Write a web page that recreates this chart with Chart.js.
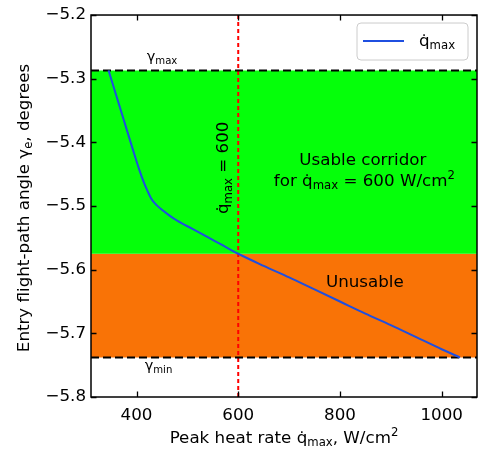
<!DOCTYPE html>
<html>
<head>
<meta charset="utf-8">
<script src="https://cdn.jsdelivr.net/npm/chart.js@4/dist/chart.umd.min.js"></script>
<style>
html, body { margin: 0; padding: 0; background: #fff; }
</style>
</head>
<body>
<canvas id="corridorChart" width="480" height="450"></canvas>
<script>
// peak heat rate (W/cm^2) vs entry flight-path angle (deg)
const heatRate = [345, 360, 375, 390, 405, 415, 422, 428, 434, 440, 450, 465, 480, 510, 540, 570, 600, 650, 700, 750, 800, 850, 900, 950, 1000, 1036];
const gammaEntry = [-5.287, -5.326, -5.365, -5.404, -5.442, -5.464, -5.477, -5.487, -5.494, -5.499, -5.506, -5.515, -5.523, -5.536, -5.549, -5.562, -5.575, -5.594, -5.612, -5.631, -5.650, -5.669, -5.687, -5.706, -5.725, -5.738];

const gammaMax = -5.287;
const gammaSplit = -5.575;
const gammaMin = -5.738;
const qLimit = 600;

const xRange = [310.5, 1069.5];
const yRange = [-5.8, -5.2];
const xTicks = [400, 600, 800, 1000];
const yTicks = [-5.8, -5.7, -5.6, -5.5, -5.4, -5.3, -5.2];

const FONT = '"DejaVu Sans", sans-serif';
const FS = 16.7;

function hline(y) {
  return [{ x: xRange[0], y: y }, { x: xRange[1], y: y }];
}

// text with sub/superscripts: parts = [[text, kind]], kind '' | 'sub' | 'sup'
function drawRich(ctx, parts, x, y, align, size) {
  const fontFor = k => (k ? size * 0.7 : size) + 'px ' + FONT;
  let w = 0;
  parts.forEach(([t, k]) => { ctx.font = fontFor(k); w += ctx.measureText(t).width; });
  let cx = align === 'center' ? x - w / 2 : align === 'right' ? x - w : x;
  ctx.textAlign = 'left';
  ctx.textBaseline = 'alphabetic';
  parts.forEach(([t, k]) => {
    ctx.font = fontFor(k);
    const dy = k === 'sub' ? size * 0.2 : k === 'sup' ? -size * 0.4 : 0;
    ctx.fillText(t, cx, y + dy);
    cx += ctx.measureText(t).width;
  });
}

const QDOT = 'q\u0307';

const extras = {
  id: 'extras',
  afterDatasetsDraw(chart) {
    const ctx = chart.ctx, xs = chart.scales.x, ys = chart.scales.y;
    ctx.save();
    ctx.fillStyle = '#000';

    drawRich(ctx, [['γ', ''], ['max', 'sub']], xs.getPixelForValue(420), ys.getPixelForValue(-5.272), 'left', 14.5);
    drawRich(ctx, [['γ', ''], ['min', 'sub']], xs.getPixelForValue(416), ys.getPixelForValue(-5.758), 'left', 14.5);

    drawRich(ctx, [['Usable corridor', '']], xs.getPixelForValue(845), ys.getPixelForValue(-5.435), 'center', FS);
    drawRich(ctx, [['for ' + QDOT, ''], ['max', 'sub'], [' = 600 W/cm', ''], ['2', 'sup']],
      xs.getPixelForValue(848), ys.getPixelForValue(-5.468), 'center', FS);
    drawRich(ctx, [['Unusable', '']], xs.getPixelForValue(849), ys.getPixelForValue(-5.628), 'center', FS);

    // rotated label next to the limit line
    ctx.save();
    ctx.translate(xs.getPixelForValue(qLimit) - 10, ys.getPixelForValue(-5.44));
    ctx.rotate(-Math.PI / 2);
    drawRich(ctx, [[QDOT, ''], ['max', 'sub'], [' = 600', '']], 0, 0, 'center', FS);
    ctx.restore();
    ctx.restore();
  },
  afterDraw(chart) {
    const ctx = chart.ctx, ca = chart.chartArea, xs = chart.scales.x, ys = chart.scales.y;
    ctx.save();
    // inward ticks on all sides
    ctx.strokeStyle = '#000';
    ctx.lineWidth = 1.3;
    const tl = 5.5;
    ctx.beginPath();
    xTicks.forEach(v => {
      const p = Math.round(xs.getPixelForValue(v)) + 0.5;
      ctx.moveTo(p, ca.bottom); ctx.lineTo(p, ca.bottom - tl);
      ctx.moveTo(p, ca.top); ctx.lineTo(p, ca.top + tl);
    });
    yTicks.forEach(v => {
      const p = Math.round(ys.getPixelForValue(v)) + 0.5;
      ctx.moveTo(ca.left, p); ctx.lineTo(ca.left + tl, p);
      ctx.moveTo(ca.right, p); ctx.lineTo(ca.right - tl, p);
    });
    ctx.stroke();
    // frame
    ctx.lineWidth = 1.5;
    ctx.strokeRect(ca.left, ca.top, ca.right - ca.left, ca.bottom - ca.top);

    // legend
    const lx = ca.right - 120, ly = ca.top + 8, lw = 111, lh = 37;
    ctx.beginPath();
    ctx.roundRect(lx, ly, lw, lh, 4);
    ctx.fillStyle = 'rgba(255,255,255,0.8)';
    ctx.fill();
    ctx.strokeStyle = '#cccccc';
    ctx.lineWidth = 1;
    ctx.stroke();
    ctx.beginPath();
    ctx.strokeStyle = '#1f4fe0';
    ctx.lineWidth = 2;
    ctx.moveTo(lx + 6, ly + 18);
    ctx.lineTo(lx + 47, ly + 18);
    ctx.stroke();
    ctx.fillStyle = '#000';
    drawRich(ctx, [[QDOT, ''], ['max', 'sub']], lx + 62, ly + 23, 'left', FS);

    // axis titles
    drawRich(ctx, [['Peak heat rate ' + QDOT, ''], ['max', 'sub'], [', W/cm', ''], ['2', 'sup']],
      (ca.left + ca.right) / 2, 442.5, 'center', FS);
    ctx.save();
    ctx.translate(29, (ca.top + ca.bottom) / 2 + 2);
    ctx.rotate(-Math.PI / 2);
    drawRich(ctx, [['Entry flight-path angle γ', ''], ['e', 'sub'], [', degrees', '']], 0, 0, 'center', FS);
    ctx.restore();
    ctx.restore();
  }
};

new Chart(document.getElementById('corridorChart'), {
  type: 'line',
  data: {
    datasets: [
      {
        label: 'qmax',
        data: heatRate.map((x, i) => ({ x: x, y: gammaEntry[i] })),
        borderColor: '#1f4fe0',
        borderWidth: 2,
        pointRadius: 0,
        cubicInterpolationMode: 'monotone',
        fill: false
      },
      {
        label: 'gamma max',
        data: hline(gammaMax),
        borderColor: '#000',
        borderWidth: 2,
        borderDash: [8, 4],
        pointRadius: 0,
        fill: false
      },
      {
        label: 'split',
        data: hline(gammaSplit),
        borderWidth: 0,
        pointRadius: 0,
        backgroundColor: '#05ff0a',
        fill: 1
      },
      {
        label: 'gamma min',
        data: hline(gammaMin),
        borderColor: '#000',
        borderWidth: 2,
        borderDash: [8, 4],
        pointRadius: 0,
        backgroundColor: '#f97306',
        fill: 2
      },
      {
        label: 'limit',
        data: [{ x: qLimit, y: yRange[0] }, { x: qLimit, y: yRange[1] }],
        borderColor: '#ff0000',
        borderWidth: 2,
        borderDash: [4, 3],
        pointRadius: 0,
        fill: false
      }
    ]
  },
  options: {
    responsive: false,
    animation: false,
    devicePixelRatio: 1,
    layout: { padding: { top: 14, right: 3, left: 0, bottom: 0 } },
    plugins: {
      legend: { display: false },
      tooltip: { enabled: false },
      filler: { drawTime: 'beforeDatasetsDraw' }
    },
    scales: {
      x: {
        type: 'linear',
        min: xRange[0],
        max: xRange[1],
        afterBuildTicks: s => { s.ticks = xTicks.map(v => ({ value: v })); },
        afterFit: s => { s.height = 53; },
        grid: { display: false, drawTicks: false },
        border: { display: false },
        ticks: {
          color: '#000',
          padding: 9,
          font: { family: FONT, size: FS },
          callback: v => String(v)
        }
      },
      y: {
        type: 'linear',
        min: yRange[0],
        max: yRange[1],
        afterBuildTicks: s => { s.ticks = yTicks.map(v => ({ value: v })); },
        afterFit: s => { s.width = 91; },
        grid: { display: false, drawTicks: false },
        border: { display: false },
        ticks: {
          color: '#000',
          padding: 5,
          font: { family: FONT, size: FS },
          callback: v => v.toFixed(1).replace('-', '\u2212')
        }
      }
    }
  },
  plugins: [extras]
});
</script>
</body>
</html>
